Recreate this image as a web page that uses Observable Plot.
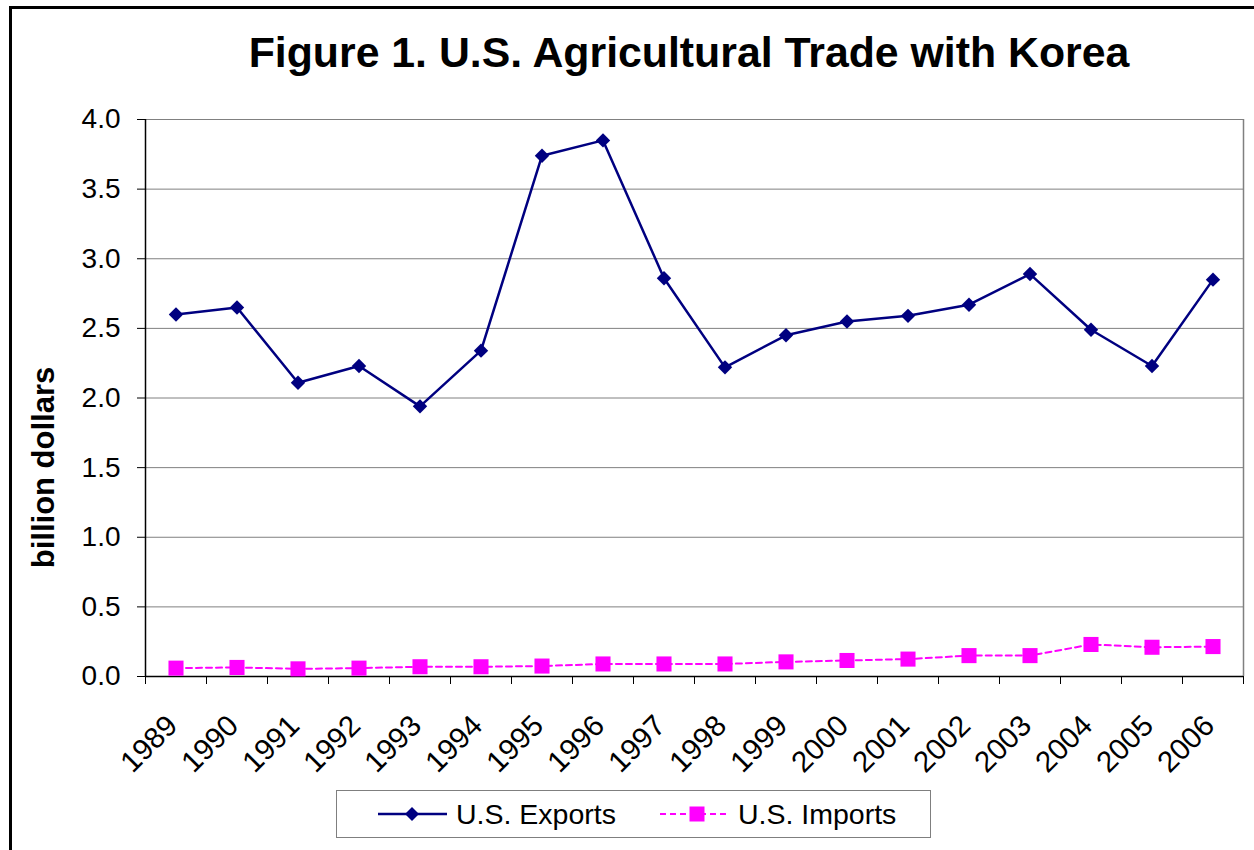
<!DOCTYPE html>
<html><head><meta charset="utf-8">
<script src="https://cdn.jsdelivr.net/npm/d3@7"></script>
<script src="https://cdn.jsdelivr.net/npm/@observablehq/plot@0.6"></script>
<style>
html,body{margin:0;padding:0;background:#fff;overflow:hidden;}
body{width:1254px;height:850px;position:relative;font-family:"Liberation Sans",Arial,sans-serif;}
#frame{position:absolute;left:9px;top:6px;width:1300px;height:900px;border:3px solid #000;box-sizing:border-box;pointer-events:none;}
#title{position:relative;height:100px;}
#title div{position:absolute;left:0;width:1378px;top:31px;line-height:42px;font-size:42.8px;font-weight:bold;text-align:center;white-space:nowrap;color:#000;}
#chart{height:690px;position:relative;}
#chart svg{display:block;}
#legend{position:absolute;left:336px;top:790px;width:595px;height:48px;border:1px solid #7f7f7f;box-sizing:border-box;background:#fff;}
#legend span{position:absolute;font-size:28.5px;line-height:28px;top:9px;white-space:nowrap;color:#000;}
#legend svg{position:absolute;left:0;top:0;}
</style>
</head>
<body>
<div id="frame"></div>
<div id="title"><div>Figure 1. U.S. Agricultural Trade with Korea</div></div>
<div id="chart"></div>
<div id="legend">
  <svg width="593" height="46">
    <line x1="41" y1="23" x2="110" y2="23" stroke="#000080" stroke-width="2.5"/>
    <path d="M75,16 L82,23 L75,30 L68,23 Z" fill="#000080"/>
    <line x1="323" y1="23" x2="391" y2="23" stroke="#FF00FF" stroke-width="2" stroke-dasharray="6,4"/>
    <rect x="352.5" y="15.5" width="15" height="15" fill="#FF00FF"/>
  </svg>
  <span style="left:119px">U.S. Exports</span>
  <span style="left:401px">U.S. Imports</span>
</div>
<script>
const years = [1989,1990,1991,1992,1993,1994,1995,1996,1997,1998,1999,2000,2001,2002,2003,2004,2005,2006];
const exportsVals = [2.60,2.65,2.11,2.23,1.94,2.34,3.74,3.85,2.86,2.22,2.45,2.55,2.59,2.67,2.89,2.49,2.23,2.85];
const importsVals = [0.06,0.065,0.055,0.06,0.07,0.07,0.075,0.09,0.09,0.09,0.105,0.115,0.125,0.15,0.15,0.23,0.21,0.215];
const yTicks = [0,0.5,1,1.5,2,2.5,3,3.5,4];
const yLabel = "billion dollars";

const exportsData = years.map((year,i)=>({year, value: exportsVals[i]}));
const importsData = years.map((year,i)=>({year, value: importsVals[i]}));
const bounds = years.map(y=>y-0.5).concat([years[years.length-1]+0.5]);

const chart = Plot.plot({
  width:1254, height:690,
  marginTop:19, marginBottom:114, marginLeft:145, marginRight:11,
  style:{fontFamily:'"Liberation Sans",Arial,sans-serif', fontSize:"28px", color:"#000", background:"transparent", overflow:"visible"},
  x:{domain:[bounds[0], bounds[bounds.length-1]]},
  y:{domain:[0,4]},
  marks:[
    Plot.gridY(yTicks,{stroke:"#808080", strokeOpacity:1}),
    Plot.ruleX([bounds[bounds.length-1]],{stroke:"#808080", strokeWidth:1.5}),
    Plot.axisY(yTicks,{tickSize:8, tickPadding:17, tickFormat:d3.format(".1f"), fontSize:28, stroke:"#000", fill:"#000", label:null}),
    Plot.axisX(bounds,{tickSize:8, tickFormat:()=>"", label:null, stroke:"#000"}),
    Plot.ruleX([bounds[0]],{stroke:"#000", strokeWidth:1.5}),
    Plot.ruleY([0],{stroke:"#000", strokeWidth:1.5}),
    Plot.line(importsData,{x:"year", y:"value", stroke:"#FF00FF", strokeWidth:2, strokeDasharray:"6,4"}),
    Plot.dot(importsData,{x:"year", y:"value", symbol:"square", r:8.5, fill:"#FF00FF", stroke:null}),
    Plot.line(exportsData,{x:"year", y:"value", stroke:"#000080", strokeWidth:2.5}),
    Plot.dot(exportsData,{x:"year", y:"value", symbol:"diamond2", r:6.5, fill:"#000080", stroke:null}),
    Plot.text(years,{x:d=>d, text:d=>String(d), frameAnchor:"bottom", dx:3, dy:51, rotate:-45, textAnchor:"end", lineAnchor:"bottom", fontSize:29.5, fill:"#000"}),
    Plot.text([yLabel],{frameAnchor:"left", text:d=>d, dx:-92, dy:69.5, rotate:-90, textAnchor:"middle", lineAnchor:"bottom", fontSize:31, fontWeight:"bold", fill:"#000"})
  ]
});
document.getElementById("chart").appendChild(chart);
</script>
</body></html>
